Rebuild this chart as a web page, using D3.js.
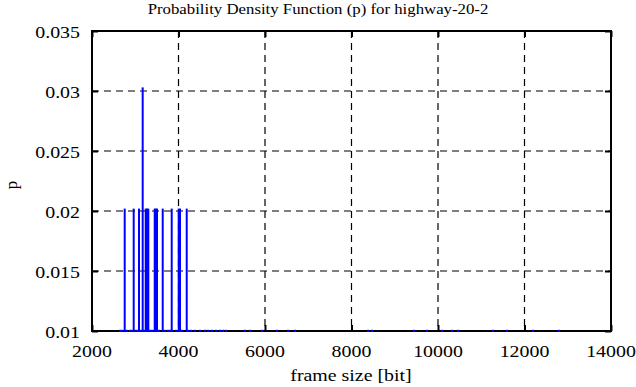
<!DOCTYPE html>
<html>
<head>
<meta charset="utf-8">
<script src="https://cdn.jsdelivr.net/npm/d3@7"></script>
<style>
    body { margin: 0; background: #fff; }
    svg text { font-family: "Liberation Serif", "DejaVu Serif", serif; fill: #000; }
</style>
</head>
<body>
<div id="display"></div>
<script>
// frame sizes [bit] and probabilities
var frameSizes = [2647, 2694, 2756, 2809, 2879, 2925, 2964, 3017, 3064, 3087, 3133, 3172, 3202, 3242,
    3272, 3302, 3341, 3387, 3450, 3473, 3503, 3549, 3635, 3688, 3757, 3803, 3843, 3850, 3942,
    4005, 4035, 4081, 4190, 4220, 4289, 4382, 4497, 4613, 4682, 4775, 4867, 4960, 5029, 5098,
    5538, 5653, 5931, 6277, 6532, 6694, 8382, 8474, 9445, 9746, 10092, 10324, 10462,
    11272, 11595, 12197, 12798];
var probs = [0.0101, 0.0101, 0.0202, 0.0101, 0.0101, 0.0101, 0.0202, 0.0101, 0.0101, 0.0202, 0.0101, 0.0303, 0.0101, 0.0202,
    0.0202, 0.0202, 0.0101, 0.0101, 0.0202, 0.0202, 0.0202, 0.0101, 0.0202, 0.0101, 0.0101, 0.0101, 0.0202, 0.0101, 0.0101,
    0.0202, 0.0202, 0.0101, 0.0202, 0.0101, 0.0101, 0.0101, 0.0101, 0.0101, 0.0101, 0.0101, 0.0101, 0.0101, 0.0101, 0.0101,
    0.0101, 0.0101, 0.0101, 0.0101, 0.0101, 0.0101, 0.0101, 0.0101, 0.0101, 0.0101, 0.0101, 0.0101, 0.0101,
    0.0101, 0.0101, 0.0101, 0.0101];
var xTicks = [2000, 4000, 6000, 8000, 10000, 12000, 14000];
var yTicks = [0.01, 0.015, 0.02, 0.025, 0.03, 0.035];
var yTickLabels = ["0.01", "0.015", "0.02", "0.025", "0.03", "0.035"];

var width = 636,
    height = 387;
var plotLeft = 92, plotRight = 611, plotTop = 31, plotBottom = 331;
var stretch = 1.17; // the reference font is a bit wider than Liberation Serif

var x = d3.scaleLinear().domain([2000, 14000]).range([plotLeft, plotRight]);
var y = d3.scaleLinear().domain([0.01, 0.035]).range([plotBottom, plotTop]);

var svg = d3.select("#display").append("svg")
    .attr("width", width)
    .attr("height", height);

function place(px, py, sx) {
    return "translate(" + px + "," + py + ") scale(" + sx + ",1)";
}

// grid
svg.append("g").selectAll("line")
    .data(xTicks.slice(1, -1))
    .enter().append("line")
    .attr("x1", function (d) { return x(d); })
    .attr("x2", function (d) { return x(d); })
    .attr("y1", plotTop)
    .attr("y2", plotBottom)
    .attr("stroke", "#000")
    .attr("stroke-width", 1.2)
    .attr("stroke-dasharray", "7,5");

svg.append("g").selectAll("line")
    .data(yTicks.slice(1, -1))
    .enter().append("line")
    .attr("x1", plotLeft)
    .attr("x2", plotRight)
    .attr("y1", function (d) { return y(d); })
    .attr("y2", function (d) { return y(d); })
    .attr("stroke", "#000")
    .attr("stroke-width", 1.2)
    .attr("stroke-dasharray", "7,5");

// axes (ticks inside, mirrored)
var tickLen = 6;
svg.append("g")
    .attr("transform", "translate(0," + plotBottom + ")")
    .call(d3.axisTop(x).tickValues(xTicks).tickSize(tickLen).tickFormat(""))
    .call(function (g) { g.select(".domain").remove(); });
svg.append("g")
    .attr("transform", "translate(0," + plotTop + ")")
    .call(d3.axisBottom(x).tickValues(xTicks).tickSize(tickLen).tickFormat(""))
    .call(function (g) { g.select(".domain").remove(); });
svg.append("g")
    .attr("transform", "translate(" + plotLeft + ",0)")
    .call(d3.axisRight(y).tickValues(yTicks).tickSize(tickLen).tickFormat(""))
    .call(function (g) { g.select(".domain").remove(); });
svg.append("g")
    .attr("transform", "translate(" + plotRight + ",0)")
    .call(d3.axisLeft(y).tickValues(yTicks).tickSize(tickLen).tickFormat(""))
    .call(function (g) { g.select(".domain").remove(); });
svg.selectAll(".tick line").attr("stroke", "#000").attr("stroke-width", 2);

// border
svg.append("rect")
    .attr("x", plotLeft)
    .attr("y", plotTop)
    .attr("width", plotRight - plotLeft)
    .attr("height", plotBottom - plotTop)
    .attr("fill", "none")
    .attr("stroke", "#000")
    .attr("stroke-width", 2);

// impulses
svg.append("g").selectAll("line")
    .data(frameSizes)
    .enter().append("line")
    .attr("x1", function (d) { return x(d); })
    .attr("x2", function (d) { return x(d); })
    .attr("y1", plotBottom + 1)
    .attr("y2", function (d, i) { return Math.min(y(probs[i]), plotBottom - 0.5); })
    .attr("stroke", "#0000ff")
    .attr("stroke-width", 2);

// tick labels
svg.append("g").selectAll("text")
    .data(xTicks)
    .enter().append("text")
    .attr("transform", function (d) { return place(x(d), 357, stretch); })
    .attr("text-anchor", "middle")
    .attr("font-size", "17px")
    .text(function (d) { return d; });

svg.append("g").selectAll("text")
    .data(yTicks)
    .enter().append("text")
    .attr("transform", function (d) { return place(80, y(d) + 7, stretch); })
    .attr("text-anchor", "end")
    .attr("font-size", "17px")
    .text(function (d, i) { return yTickLabels[i]; });

// titles
svg.append("text")
    .attr("transform", place(318, 14, 1.12))
    .attr("text-anchor", "middle")
    .attr("font-size", "15px")
    .text("Probability Density Function (p) for highway-20-2");

svg.append("text")
    .attr("transform", place(351, 381, stretch))
    .attr("text-anchor", "middle")
    .attr("font-size", "17px")
    .text("frame size [bit]");

svg.append("text")
    .attr("transform", "translate(17,185) rotate(-90)")
    .attr("text-anchor", "middle")
    .attr("font-size", "17px")
    .text("p");
</script>
</body>
</html>
